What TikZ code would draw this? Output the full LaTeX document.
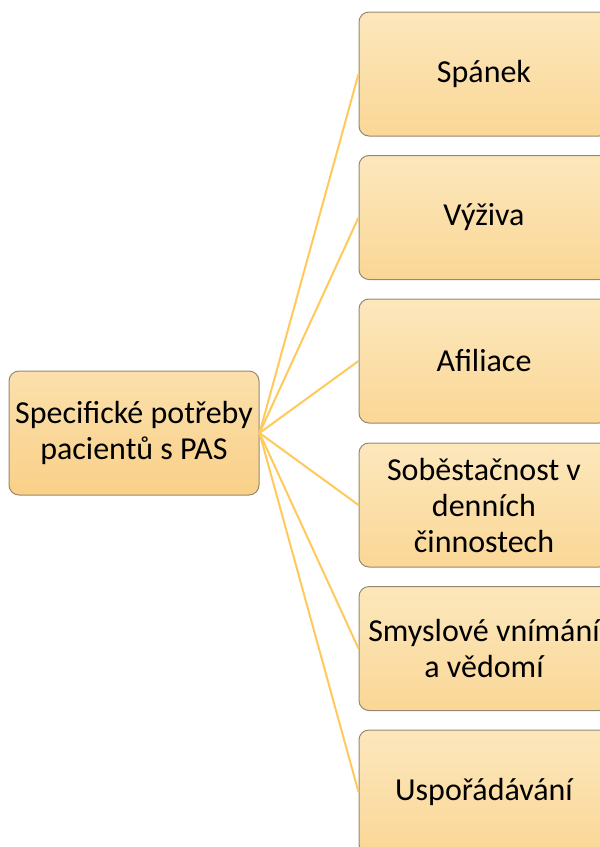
\documentclass[tikz,border=0pt]{standalone}
\usepackage{fontspec}
\setmainfont{Carlito}
\usepackage{tikz}
\definecolor{linkcolor}{RGB}{255,201,92}
\definecolor{leaftop}{RGB}{252,231,188}
\definecolor{leafbottom}{RGB}{250,215,150}
\definecolor{roottop}{RGB}{251,224,172}
\definecolor{rootbottom}{RGB}{249,208,136}
\definecolor{boxborder}{RGB}{150,136,112}
\tikzstyle{leaf}=[rectangle, rounded corners=10pt, draw=boxborder, line width=1pt, top color=leaftop, bottom color=leafbottom, minimum width=250pt, minimum height=124pt, inner sep=0pt, align=center, font=\fontsize{32}{36}\selectfont]
\tikzstyle{root}=[leaf, top color=roottop, bottom color=rootbottom]
\tikzstyle{link}=[draw=linkcolor, line width=2pt]

\begin{document}
\begin{tikzpicture}[x=1pt, y=-1pt]
\useasboundingbox (0,0) rectangle (600,847);
\node [root] (needs) at (134,433) {Specifické potřeby\\pacientů s PAS};
\node [leaf] (sleep) at (484,74) {Spánek};
\node [leaf] (food) at (484,217.5) {Výživa};
\node [leaf] (affil) at (484,361) {Afiliace};
\node [leaf] (selfcare) at (484,505) {Soběstačnost v\\denních\\činnostech};
\node [leaf] (senses) at (484,648.5) {Smyslové vnímání\\a vědomí};
\node [leaf] (order) at (484,792) {Uspořádávání};
% spojnice
\foreach \n in {sleep,food,affil,selfcare,senses,order}
  \draw [link] (needs.east) -- (\n.west);
\end{tikzpicture}
\end{document}
